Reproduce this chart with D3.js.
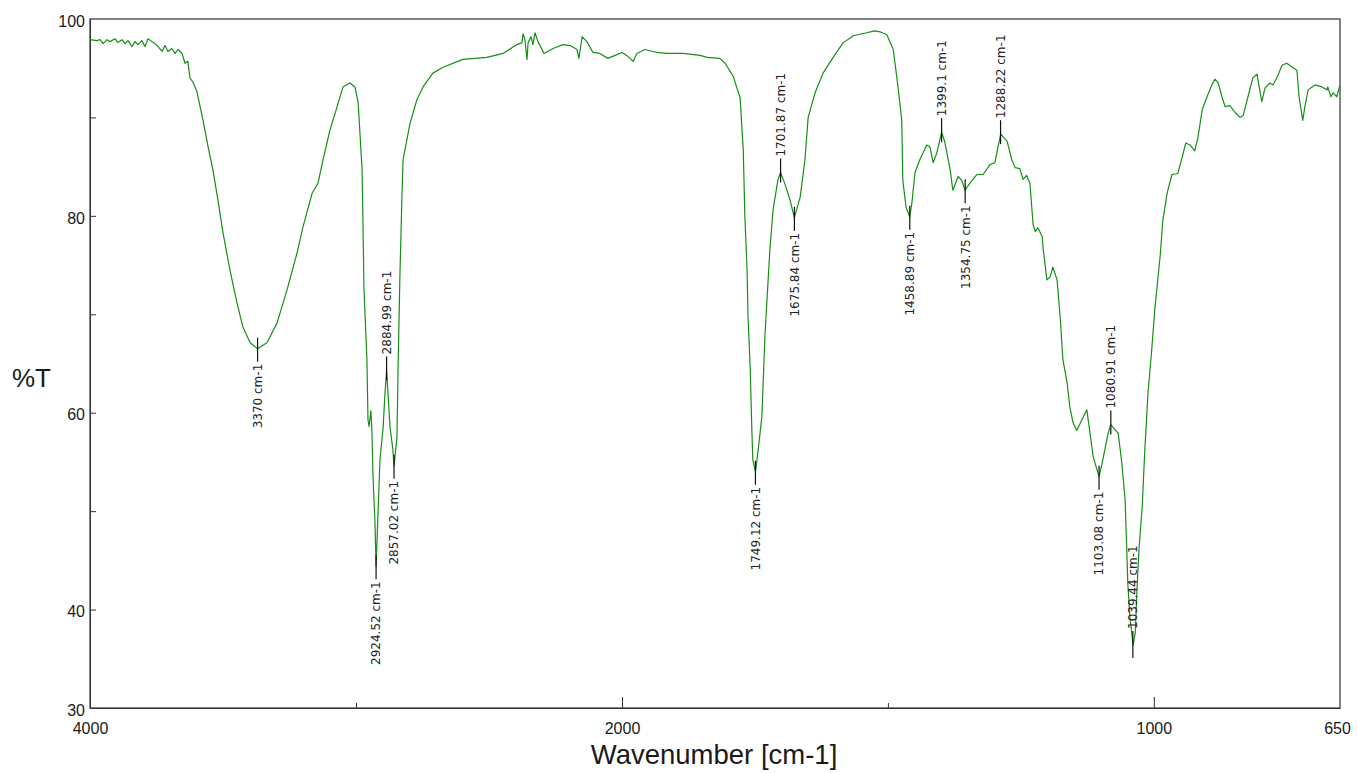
<!DOCTYPE html>
<html>
<head>
<meta charset="utf-8">
<script src="https://cdn.jsdelivr.net/npm/d3@7"></script>
<style>
  body { margin: 0; background: #fff; }
  svg { display: block; }
</style>
</head>
<body>
<div id="viz1"></div>
<script>
"use strict";
(function(){
  // spectrum (cm-1, %T)
  const wavenumbers = [4000, 3974, 3962, 3951, 3936, 3925, 3906, 3895, 3880, 3868, 3857, 3842, 3831, 3820, 3805, 3793, 3782, 3767, 3756, 3744,
    3729, 3718, 3707, 3692, 3680, 3669, 3654, 3643, 3632, 3624, 3613, 3598, 3575, 3556, 3538, 3519, 3500, 3474, 3447, 3425,
    3398, 3370, 3335, 3297, 3259, 3222, 3199, 3165, 3143, 3124, 3098, 3071, 3049, 3023, 3004, 2992, 2977, 2970, 2959, 2955,
    2951, 2944, 2940, 2936, 2929, 2924.5, 2910, 2898, 2891, 2885, 2872, 2861, 2857, 2846, 2842, 2835, 2827, 2823, 2797, 2771,
    2748, 2711, 2673, 2598, 2508, 2447, 2395, 2376, 2372, 2365, 2357, 2353, 2342, 2335, 2327, 2316, 2293, 2259, 2222, 2195,
    2169, 2162, 2150, 2132, 2109, 2083, 2053, 2026, 2000, 1991, 1979, 1972, 1957, 1934, 1915, 1885, 1853, 1840, 1816, 1806,
    1791, 1778, 1772, 1769, 1765, 1763, 1759, 1756, 1754, 1749, 1744, 1737, 1731, 1722, 1716, 1707, 1702, 1694, 1684, 1676,
    1665, 1656, 1650, 1637, 1622, 1603, 1584, 1565, 1540, 1525, 1515, 1502, 1490, 1481, 1474, 1472, 1466, 1459, 1455, 1449,
    1440, 1427, 1421, 1415, 1408, 1399, 1393, 1383, 1378, 1368, 1361, 1355, 1346, 1333, 1321, 1308, 1299, 1288, 1276, 1267,
    1261, 1252, 1246, 1239, 1233, 1227, 1223, 1218, 1210, 1208, 1201, 1195, 1190, 1182, 1176, 1171, 1163, 1158, 1152, 1145,
    1135, 1126, 1120, 1114, 1103, 1096, 1086, 1081, 1067, 1060, 1054, 1051, 1049, 1045, 1039, 1035, 1032, 1028, 1022, 1017,
    1011, 1004, 998, 988, 983, 975, 966, 955, 947, 940, 932, 923, 917, 909, 900, 891, 885, 879, 872, 866,
    857, 847, 838, 832, 823, 814, 806, 802, 797, 791, 782, 776, 768, 759, 750, 740, 731, 727, 720, 716,
    710, 697, 684, 674, 673, 667, 663, 656, 650]
  const transmittance = [97.9, 97.8, 97.9, 97.5, 97.9, 97.7, 98.0, 97.6, 97.9, 97.5, 97.8, 97.2, 97.7, 97.4, 97.8, 97.2, 98.0, 97.7, 97.5, 97.2,
    96.7, 97.3, 96.7, 97.0, 96.5, 96.9, 96.5, 95.5, 95.7, 94.0, 93.6, 92.6, 89.7, 87.0, 84.7, 81.6, 78.3, 74.5, 71.1, 68.7,
    67.1, 66.5, 67.1, 69.1, 72.5, 76.2, 78.9, 82.3, 83.3, 85.7, 88.7, 91.1, 93.1, 93.5, 93.1, 91.5, 84.7, 72.6, 65.4, 59.3,
    58.6, 60.2, 58.0, 53.5, 49.1, 44.4, 55.2, 58.5, 62.0, 64.3, 58.5, 56.2, 54.6, 57.5, 64.3, 73.8, 82.3, 85.7, 89.4, 91.8,
    93.1, 94.5, 95.1, 95.9, 96.1, 96.5, 97.4, 97.6, 98.5, 97.9, 95.9, 97.6, 98.2, 97.4, 98.6, 97.7, 96.5, 97.0, 97.4, 97.3,
    96.9, 96.0, 98.2, 97.7, 96.6, 96.5, 96.0, 96.3, 96.6, 96.3, 95.7, 96.5, 96.9, 96.6, 96.5, 96.5, 96.3, 96.1, 96.0, 95.5,
    94.2, 92.0, 86.7, 79.9, 74.8, 69.7, 64.6, 58.5, 55.2, 54.0, 56.2, 59.6, 68.1, 76.5, 80.6, 83.6, 84.4, 83.3, 81.6, 79.8,
    81.9, 85.7, 90.0, 92.5, 94.5, 96.1, 97.6, 98.3, 98.6, 98.8, 98.7, 98.4, 96.9, 93.1, 89.7, 83.6, 80.9, 79.9, 81.3, 84.4,
    85.7, 87.2, 87.0, 85.4, 86.4, 88.5, 87.5, 84.7, 82.6, 84.0, 83.6, 82.6, 83.3, 84.2, 84.2, 85.2, 85.4, 88.3, 87.6, 85.7,
    84.9, 84.8, 83.7, 84.1, 83.3, 79.1, 78.4, 78.8, 77.9, 76.6, 73.5, 73.8, 74.8, 73.5, 69.6, 65.4, 63.0, 60.6, 59.0, 58.2,
    59.3, 60.3, 57.9, 55.5, 53.5, 55.2, 57.9, 58.8, 57.9, 54.8, 51.1, 46.1, 42.7, 39.2, 36.4, 37.6, 41.7, 46.1, 50.4, 56.2,
    62.0, 66.4, 70.6, 76.0, 79.6, 82.3, 84.2, 84.3, 85.9, 87.4, 87.2, 86.6, 88.0, 90.8, 92.1, 93.3, 93.9, 93.5, 92.1, 91.1,
    91.2, 90.5, 90.0, 90.2, 92.1, 94.0, 94.4, 93.1, 91.6, 93.0, 93.5, 93.3, 94.1, 95.3, 95.5, 95.1, 94.8, 92.1, 89.7, 91.1,
    92.8, 93.3, 93.1, 92.8, 93.1, 92.1, 92.5, 92.1, 93.3]

  // picked peaks
  const peakWn = [3370, 2924.52, 2884.99, 2857.02, 1749.12, 1701.87, 1675.84, 1458.89, 1399.1, 1354.75, 1288.22, 1103.08, 1080.91, 1039.44]
  const peakT = [66.5, 44.4, 64.3, 54.6, 54.0, 84.4, 79.8, 79.9, 88.5, 82.6, 88.3, 53.5, 58.8, 36.4]
  const peakKind = ['min', 'min', 'max', 'min', 'min', 'max', 'min', 'min', 'max', 'min', 'max', 'min', 'max', 'min']

  // axis ticks
  const xTicks = [4000, 3000, 2000, 1500, 1000, 650]
  const xMajor = [2000, 1000]
  const xLabels = [4000, 2000, 1000, 650]
  const yTicks = [30, 40, 50, 60, 70, 80, 90, 100]
  const yLabels = [30, 40, 60, 80, 100]

  let m = {
    width: 1357,
    height: 773,
    left: 90,
    right: 1340,
    top: 19,
    bottom: 708
  }

  const svg = d3.select("#viz1").append('svg')
      .attr('width', m.width)
      .attr('height', m.height)

  // scale changes at 2000 cm-1 (double expansion below)
  const x = d3.scaleLinear()
      .domain([4000, 2000, 650])
      .range([m.left, (m.left + m.right) / 2 - 93, m.right])
  const y = d3.scaleLinear()
      .domain([30, 100])
      .range([m.bottom, m.top])

  const axisColor = '#333'

  // y axis
  const yAxis = svg.append('g')
      .attr('transform', 'translate(' + m.left + ',0)')
      .call(d3.axisLeft(y)
        .tickValues(yTicks)
        .tickSizeInner(-6)
        .tickSizeOuter(0)
        .tickPadding(5)
        .tickFormat(d => yLabels.includes(d) ? d : ''))
  yAxis.selectAll('text')
      .attr('font-family', 'Liberation Sans, Arial, sans-serif')
      .attr('font-size', '16px')
      .attr('fill', '#1a1a1a')
      .attr('dy', '0.45em')
  yAxis.selectAll('line, path').attr('stroke', axisColor)
  yAxis.select('.tick:last-of-type line').remove()

  // x axis
  const xAxis = svg.append('g')
      .attr('transform', 'translate(0,' + m.bottom + ')')
      .call(d3.axisBottom(x)
        .tickValues(xTicks)
        .tickSizeOuter(0)
        .tickFormat(d => xLabels.includes(d) ? d : ''))
  xAxis.selectAll('.tick line')
      .attr('stroke', axisColor)
      .attr('y2', d => xMajor.includes(d) ? -11 : (d == 4000 || d == 650 ? 0 : -5))
  xAxis.selectAll('text')
      .attr('font-family', 'Liberation Sans, Arial, sans-serif')
      .attr('font-size', '16px')
      .attr('fill', '#1a1a1a')
      .attr('y', 15)
      .attr('x', d => d == 650 ? -3 : 0)
  xAxis.select('path').attr('stroke', axisColor)

  // frame (top and right)
  svg.append('rect')
      .attr('x', m.left)
      .attr('y', m.top)
      .attr('width', m.right - m.left)
      .attr('height', m.bottom - m.top)
      .attr('fill', 'none')
      .attr('stroke', axisColor)
      .attr('stroke-width', 1.2)

  // spectrum line
  const spectrum = wavenumbers.map((w, i) => ({wn: w, t: transmittance[i]}))
  const line = d3.line()
      .x(d => x(d.wn))
      .y(d => y(d.t))
  svg.append('path')
      .datum(spectrum)
      .attr('d', line)
      .attr('fill', 'none')
      .attr('stroke', '#168f16')
      .attr('stroke-width', 1.2)
      .attr('stroke-linejoin', 'round')

  // peak markers and labels
  const peaks = peakWn.map((w, i) => ({wn: w, t: peakT[i], kind: peakKind[i]}))
  const pg = svg.append('g')
  peaks.forEach(function(p){
    let px = x(p.wn)
    let py = y(p.t)
    let label = pg.append('text')
        .attr('font-family', 'DejaVu Sans, Verdana, sans-serif')
        .attr('font-size', '12px')
        .attr('fill', '#222')
        .attr('dy', '0.36em')
        .text(p.wn + ' cm-1')
    let len = label.node().getComputedTextLength()
    let above = p.kind == 'max' || (py + 15 + len > m.bottom)
    let y1, y2, ty
    if (above) {
      y1 = py + (p.kind == 'max' ? 10 : 13)
      y2 = py - 14
      ty = py - 16
      label.attr('text-anchor', 'start')
    } else {
      y1 = py - 11
      y2 = py + 13
      ty = py + 15
      label.attr('text-anchor', 'end')
    }
    label.attr('transform', 'translate(' + px + ',' + ty + ')rotate(-90)')
    pg.append('line')
        .attr('x1', px)
        .attr('x2', px)
        .attr('y1', y1)
        .attr('y2', y2)
        .attr('stroke', '#111')
        .attr('stroke-width', 1.2)
  })

  // axis titles
  svg.append('text')
      .attr('x', (m.left + m.right) / 2 - 1)
      .attr('y', m.bottom + 56)
      .attr('text-anchor', 'middle')
      .attr('font-family', 'Liberation Sans, Arial, sans-serif')
      .attr('font-size', '27.5px')
      .attr('fill', '#1a1a1a')
      .text('Wavenumber [cm-1]')
  svg.append('text')
      .attr('x', 12)
      .attr('y', 387)
      .attr('font-family', 'Liberation Sans, Arial, sans-serif')
      .attr('font-size', '26px')
      .attr('fill', '#1a1a1a')
      .text('%T')
})();
</script>
</body>
</html>
